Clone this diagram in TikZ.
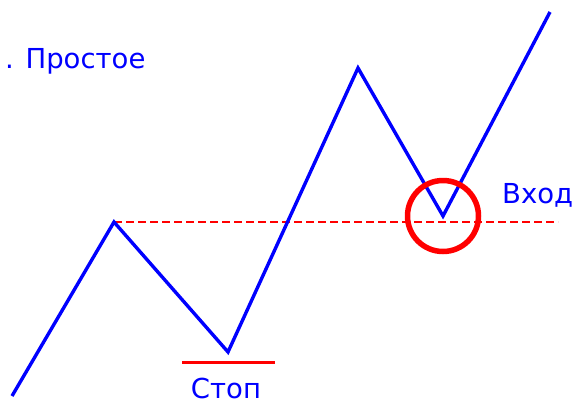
\documentclass[tikz,border=0pt]{standalone}
\usepackage{fontspec}
\setmainfont{DejaVu Sans}
\begin{document}
\begin{tikzpicture}[x=1pt,y=-1pt,
  wave/.style={draw=blue,line width=3.4pt,line join=miter},
  lvl/.style={draw=red,line width=2.9pt,dash pattern=on 8pt off 4pt},
  lbl/.style={text=blue,font=\fontsize{27.5}{30}\selectfont,inner sep=0pt}]
\useasboundingbox (0,0) rectangle (578,405);
\coordinate (s) at (12,396);
\coordinate (p1) at (114,222);
\coordinate (t) at (228,352);
\coordinate (p2) at (358,68);
\coordinate (e) at (443,216);
\coordinate (f) at (550,12);
\coordinate (dend) at (558,222);
\coordinate (sl) at (182,362);
\coordinate (sr) at (275,362);
\draw[lvl] (p1) -- (dend);
\draw[wave] (s) -- (p1) -- (t) -- (p2) -- (e) -- (f);
\draw[red,line width=3pt] (sl) -- (sr);
\node[draw=red,line width=5.5pt,circle,minimum size=71pt,inner sep=0pt] (c) at (443,216) {};
\node[lbl,anchor=base west] (title) at (5,68) {. Простое};
\node[lbl,anchor=base] (stop) at (226,398) {Стоп};
\node[lbl,anchor=base west] (entry) at (502,203) {Вход};
\end{tikzpicture}
\end{document}
